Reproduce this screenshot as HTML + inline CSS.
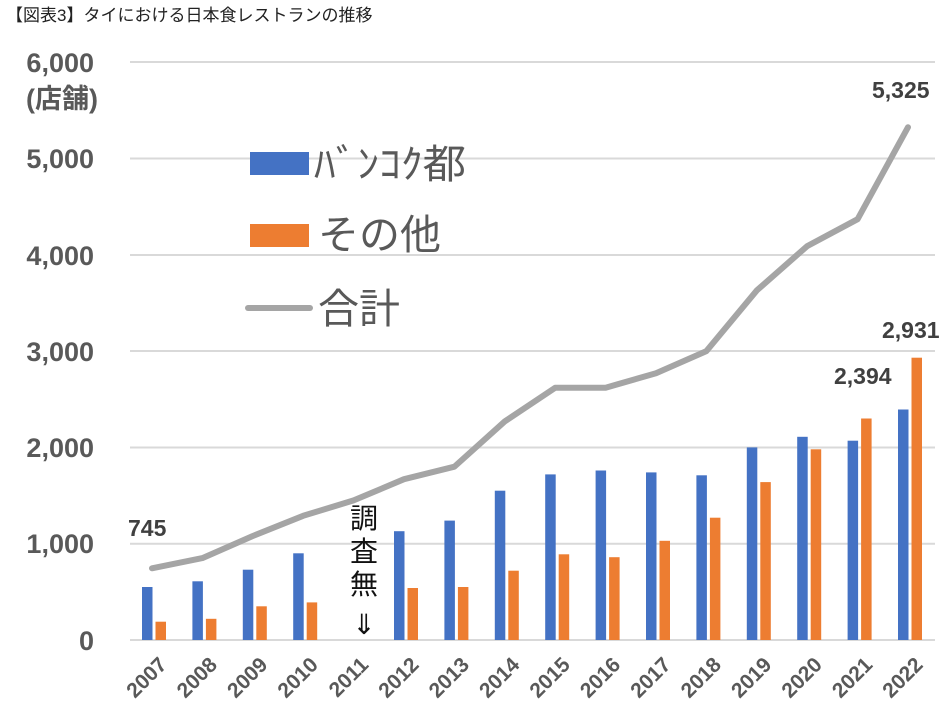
<!DOCTYPE html><html><head><meta charset="utf-8"><style>body{margin:0;background:#fff}svg{display:block}text{font-family:"Liberation Sans","Noto Sans CJK JP",sans-serif}</style></head><body>
<svg width="950" height="726" viewBox="0 0 950 726">
<text x="6" y="21" font-size="17" fill="#222">【図表3】タイにおける日本食レストランの推移</text>
<g stroke="#d9d9d9" stroke-width="2">
<line x1="130" x2="935" y1="62" y2="62"/><line x1="130" x2="935" y1="158.5" y2="158.5"/><line x1="130" x2="935" y1="255" y2="255"/><line x1="130" x2="935" y1="351" y2="351"/><line x1="130" x2="935" y1="447.5" y2="447.5"/><line x1="130" x2="935" y1="543.7" y2="543.7"/><line x1="130" x2="935" y1="640" y2="640"/></g>
<g font-size="27" font-weight="bold" fill="#595959" text-anchor="end">
<text x="94" y="72">6,000</text><text x="94" y="168">5,000</text><text x="94" y="265">4,000</text><text x="94" y="361">3,000</text><text x="94" y="457">2,000</text><text x="94" y="553">1,000</text><text x="94" y="650">0</text></g>
<text x="26" y="108" font-size="27" font-weight="bold" fill="#595959">(店舗)</text>
<g fill="#4472c4">
<rect x="142" y="587" width="10.5" height="53"/>
<rect x="192.4" y="581.3" width="10.5" height="58.7"/>
<rect x="242.8" y="569.7" width="10.5" height="70.3"/>
<rect x="293.2" y="553.3" width="10.5" height="86.7"/>
<rect x="394" y="531.2" width="10.5" height="108.8"/>
<rect x="444.4" y="520.6" width="10.5" height="119.4"/>
<rect x="494.8" y="490.7" width="10.5" height="149.3"/>
<rect x="545.2" y="474.4" width="10.5" height="165.6"/>
<rect x="595.6" y="470.5" width="10.5" height="169.5"/>
<rect x="646" y="472.4" width="10.5" height="167.6"/>
<rect x="696.4" y="475.3" width="10.5" height="164.7"/>
<rect x="746.8" y="447.4" width="10.5" height="192.6"/>
<rect x="797.2" y="436.8" width="10.5" height="203.2"/>
<rect x="847.6" y="440.7" width="10.5" height="199.3"/>
<rect x="898" y="409.5" width="10.5" height="230.5"/>
</g>
<g fill="#ed7d31">
<rect x="155.5" y="621.7" width="10.5" height="18.3"/>
<rect x="205.9" y="618.8" width="10.5" height="21.2"/>
<rect x="256.3" y="606.3" width="10.5" height="33.7"/>
<rect x="306.7" y="602.4" width="10.5" height="37.6"/>
<rect x="407.5" y="588" width="10.5" height="52"/>
<rect x="457.9" y="587" width="10.5" height="53"/>
<rect x="508.3" y="570.7" width="10.5" height="69.3"/>
<rect x="558.7" y="554.3" width="10.5" height="85.7"/>
<rect x="609.1" y="557.2" width="10.5" height="82.8"/>
<rect x="659.5" y="540.8" width="10.5" height="99.2"/>
<rect x="709.9" y="517.7" width="10.5" height="122.3"/>
<rect x="760.3" y="482.1" width="10.5" height="157.9"/>
<rect x="810.7" y="449.3" width="10.5" height="190.7"/>
<rect x="861.1" y="418.5" width="10.5" height="221.5"/>
<rect x="911.5" y="357.7" width="10.5" height="282.3"/>
</g>
<polyline points="152,568.3 202.4,558.1 252.8,536 303.2,515.8 353.6,500.4 404,479.2 454.4,466.7 504.8,421.4 555.2,387.7 605.6,387.7 656,373.2 706.4,351.1 756.8,290.4 807.2,246.1 857.6,219.2 908,127.2" fill="none" stroke="#a5a5a5" stroke-width="6" stroke-linejoin="round" stroke-linecap="round"/>
<g font-size="21" font-weight="bold" fill="#595959" text-anchor="end">
<text transform="translate(168,666) rotate(-45)">2007</text>
<text transform="translate(218.4,666) rotate(-45)">2008</text>
<text transform="translate(268.8,666) rotate(-45)">2009</text>
<text transform="translate(319.2,666) rotate(-45)">2010</text>
<text transform="translate(369.6,666) rotate(-45)">2011</text>
<text transform="translate(420,666) rotate(-45)">2012</text>
<text transform="translate(470.4,666) rotate(-45)">2013</text>
<text transform="translate(520.8,666) rotate(-45)">2014</text>
<text transform="translate(571.2,666) rotate(-45)">2015</text>
<text transform="translate(621.6,666) rotate(-45)">2016</text>
<text transform="translate(672,666) rotate(-45)">2017</text>
<text transform="translate(722.4,666) rotate(-45)">2018</text>
<text transform="translate(772.8,666) rotate(-45)">2019</text>
<text transform="translate(823.2,666) rotate(-45)">2020</text>
<text transform="translate(873.6,666) rotate(-45)">2021</text>
<text transform="translate(924,666) rotate(-45)">2022</text>
</g>
<g font-size="23" font-weight="bold" fill="#404040">
<text x="128" y="536">745</text><text x="872" y="98">5,325</text><text x="882" y="338">2,931</text><text x="834" y="384">2,394</text></g>
<g font-size="28" fill="#111" text-anchor="middle"><text x="364" y="528">調</text><text x="364" y="561">査</text><text x="364" y="594">無</text><text x="364" y="634">⇓</text></g>
<rect x="250" y="152" width="59" height="23" fill="#4472c4"/>
<text x="314" y="178" font-size="40" fill="#595959" textLength="152" lengthAdjust="spacingAndGlyphs">ﾊﾞﾝｺｸ都</text>
<rect x="250" y="224" width="59" height="23" fill="#ed7d31"/>
<text x="318" y="249" font-size="41" fill="#595959">その他</text>
<line x1="248" x2="310" y1="308" y2="308" stroke="#a5a5a5" stroke-width="6" stroke-linecap="round"/>
<text x="318" y="323" font-size="41" fill="#595959">合計</text>
</svg></body></html>
